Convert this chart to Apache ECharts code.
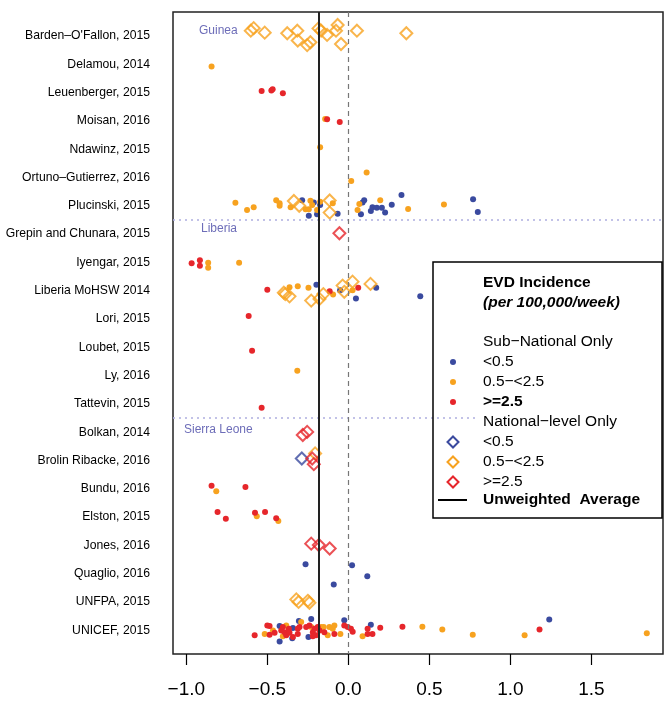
<!DOCTYPE html>
<html>
<head>
<meta charset="utf-8">
<script src="https://cdn.jsdelivr.net/npm/echarts@6/dist/echarts.min.js"></script>
<style>html,body{margin:0;padding:0;background:#fff;}#c{width:665px;height:702px;}</style>
</head>
<body>
<div id="c"></div>
<script>
// Study names (rows, top to bottom)
const studies = ["Barden–O'Fallon, 2015","Delamou, 2014","Leuenberger, 2015","Moisan, 2016","Ndawinz, 2015","Ortuno–Gutierrez, 2016","Plucinski, 2015","Grepin and Chunara, 2015","Iyengar, 2015","Liberia MoHSW 2014","Lori, 2015","Loubet, 2015","Ly, 2016","Tattevin, 2015","Bolkan, 2014","Brolin Ribacke, 2016","Bundu, 2016","Elston, 2015","Jones, 2016","Quaglio, 2016","UNFPA, 2015","UNICEF, 2015"];
const xTicks = [-1.0, -0.5, 0.0, 0.5, 1.0, 1.5];
const averageValue = -0.176;
const regionBreaks = [7.5, 14.5];

// Each entry: [row (1-based), value, vertical jitter in rows]
const subLow = [
 [7,-0.285,-0.20],[7,-0.244,0.35],[7,-0.213,-0.12],[7,-0.193,0.30],[7,-0.174,-0.03],[7,-0.066,0.28],[7,0.078,0.30],[7,0.088,-0.12],[7,0.098,-0.20],[7,0.139,0.18],[7,0.149,0.05],[7,0.176,0.07],[7,0.207,0.07],[7,0.227,0.24],[7,0.268,-0.04],[7,0.328,-0.38],[7,0.770,-0.23],[7,0.799,0.22],
 [10,-0.197,-0.21],[10,-0.051,-0.02],[10,0.047,0.28],[10,0.172,-0.10],[10,0.444,0.20],
 [20,-0.264,-0.33],[20,0.023,-0.30],[20,0.117,0.09],[20,-0.090,0.38],
 [22,-0.424,-0.15],[22,-0.424,0.40],[22,-0.342,-0.08],[22,-0.346,0.28],[22,-0.305,-0.33],[22,-0.246,0.24],[22,-0.229,-0.40],[22,-0.025,-0.35],[22,0.139,-0.19],[22,1.240,-0.38]
];
const subMid = [
 [2,-0.844,0.08],
 [4,-0.143,-0.07],
 [5,-0.174,-0.07],
 [6,0.113,-0.18],[6,0.018,0.12],
 [7,-0.697,-0.11],[7,-0.625,0.15],[7,-0.584,0.05],[7,-0.445,-0.20],[7,-0.424,-0.09],[7,-0.424,0.00],[7,-0.356,0.05],[7,-0.264,0.12],[7,-0.244,0.12],[7,-0.234,-0.18],[7,-0.223,-0.03],[7,-0.193,0.15],[7,-0.174,-0.14],[7,-0.096,-0.09],[7,0.057,0.15],[7,0.068,-0.06],[7,0.197,-0.20],[7,0.369,0.11],[7,0.590,-0.05],
 [9,-0.865,0.01],[9,-0.865,0.19],[9,-0.674,0.01],
 [10,-0.363,-0.12],[10,-0.312,-0.16],[10,-0.246,-0.10],[10,-0.094,0.13],[10,0.026,-0.02],
 [13,-0.315,-0.17],
 [17,-0.815,0.09],
 [18,-0.565,-0.03],[18,-0.432,0.14],
 [22,-0.516,0.13],[22,-0.465,0.01],[22,-0.383,-0.17],[22,-0.404,0.21],[22,-0.291,-0.29],[22,-0.229,-0.11],[22,-0.168,-0.11],[22,-0.152,-0.11],[22,-0.127,0.18],[22,-0.117,-0.11],[22,-0.096,-0.05],[22,-0.049,0.13],[22,-0.086,-0.17],[22,0.088,0.21],[22,0.457,-0.12],[22,0.580,-0.03],[22,0.768,0.16],[22,1.088,0.18],[22,1.842,0.11]
];
const subHigh = [
 [3,-0.535,-0.06],[3,-0.475,-0.08],[3,-0.467,-0.12],[3,-0.404,0.02],
 [4,-0.131,-0.06],[4,-0.053,0.04],
 [9,-0.967,0.03],[9,-0.916,-0.08],[9,-0.916,0.12],
 [10,-0.500,-0.03],[10,-0.115,0.02],[10,0.061,-0.10],
 [11,-0.615,-0.11],
 [12,-0.594,0.12],
 [14,-0.535,0.14],
 [17,-0.844,-0.11],[17,-0.635,-0.06],
 [18,-0.807,-0.18],[18,-0.756,0.06],[18,-0.576,-0.15],[18,-0.514,-0.18],[18,-0.445,0.04],
 [22,-0.578,0.18],[22,-0.486,0.16],[22,-0.500,-0.17],[22,-0.486,-0.15],[22,-0.455,0.09],[22,-0.414,0.01],[22,-0.393,0.07],[22,-0.383,0.18],[22,-0.404,-0.11],[22,-0.367,-0.05],[22,-0.342,0.24],[22,-0.363,0.09],[22,-0.312,-0.05],[22,-0.301,-0.11],[22,-0.312,0.13],[22,-0.260,-0.11],[22,-0.240,-0.17],[22,-0.219,0.07],[22,-0.209,-0.05],[22,-0.199,0.18],[22,-0.219,0.21],[22,-0.189,-0.11],[22,-0.178,0.01],[22,-0.148,0.07],[22,-0.086,0.13],[22,-0.025,-0.17],[22,-0.004,-0.11],[22,0.016,-0.05],[22,0.027,0.05],[22,0.119,-0.05],[22,0.119,0.13],[22,0.149,0.13],[22,0.197,-0.09],[22,0.334,-0.12],[22,1.180,-0.03]
];
const natLow = [
 [16,-0.287,-0.07]
];
const natMid = [
 [1,-0.602,-0.19],[1,-0.584,-0.28],[1,-0.516,-0.12],[1,-0.377,-0.10],[1,-0.315,-0.19],[1,-0.312,0.16],[1,-0.254,0.32],[1,-0.234,0.22],[1,-0.184,-0.27],[1,-0.168,-0.19],[1,-0.131,-0.04],[1,-0.076,-0.19],[1,-0.066,-0.39],[1,-0.045,0.28],[1,0.053,-0.19],[1,0.358,-0.10],
 [7,-0.336,-0.17],[7,-0.303,0.00],[7,-0.115,-0.19],[7,-0.115,0.24],
 [10,-0.398,0.07],[10,-0.389,0.12],[10,-0.363,0.20],[10,-0.229,0.35],[10,-0.178,0.29],[10,-0.154,0.12],[10,-0.035,-0.18],[10,-0.025,0.04],[10,0.026,-0.32],[10,0.137,-0.24],
 [16,-0.205,-0.25],
 [21,-0.321,-0.09],[21,-0.307,0.00],[21,-0.250,-0.04],[21,-0.240,0.03]
];
const natHigh = [
 [8,-0.055,-0.03],
 [15,-0.281,0.10],[15,-0.254,-0.01],
 [16,-0.223,-0.07],[16,-0.213,0.13],
 [19,-0.229,-0.06],[19,-0.182,-0.01],[19,-0.115,0.11]
];

const BLUE = '#3a4a9f', ORANGE = '#f7a21f', RED = '#e6262b';
const FONT = '"Liberation Sans", Arial, Helvetica, sans-serif';
const X_MIN = -1.082, X_MAX = 1.942;
const toXY = arr => arr.map(d => [d[1], d[0] + d[2]]);

function dotSeries(name, arr, color) {
  return { name, type: 'scatter', data: toXY(arr), symbol: 'circle', symbolSize: 6, z: 2,
    itemStyle: { color: color, opacity: 1 }, silent: true, animation: false };
}
function diamondSeries(name, arr, color) {
  return { name, type: 'scatter', data: toXY(arr), symbol: 'diamond', symbolSize: 12, z: 4,
    itemStyle: { color: 'transparent', borderColor: color, borderWidth: 2 }, silent: true, animation: false };
}

const chart = echarts.init(document.getElementById('c'), null, { renderer: 'canvas' });

const lx = 453, tx = 483, LZ = 100;
const legendY = [283, 303, 342, 362, 382, 402, 422, 442, 462, 482, 500];
const diamondPts = (cx, cy) => [[cx, cy - 5.5], [cx + 5.5, cy], [cx, cy + 5.5], [cx - 5.5, cy]];
const txt = (t, y, font) => ({ type: 'text', z: LZ + 2, style: { text: t, x: tx, y: y, font: font, fill: '#000', verticalAlign: 'middle', textVerticalAlign: 'middle' } });
const dotted = { color: '#aeaee0', type: [2, 4], width: 1.5 };

const option = {
  backgroundColor: '#fff',
  animation: false,
  textStyle: { fontFamily: FONT },
  grid: { left: 173, right: 2, top: 12, bottom: 48, show: true, borderColor: '#222', borderWidth: 1.5, backgroundColor: '#fff' },
  xAxis: {
    type: 'value', min: X_MIN, max: X_MAX,
    splitLine: { show: false },
    axisLine: { show: false },
    axisTick: { show: true, length: 11, customValues: xTicks, lineStyle: { color: '#000', width: 1.2 } },
    axisLabel: { customValues: xTicks, fontSize: 19, margin: 26, color: '#000', fontFamily: FONT,
      formatter: v => (v < 0 ? '\u2212' : '') + Math.abs(v).toFixed(1) }
  },
  yAxis: {
    type: 'value', inverse: true, min: 0.15, max: 22.84,
    splitLine: { show: false }, axisLine: { show: false }, axisTick: { show: false },
    axisLabel: { customValues: studies.map((s, i) => i + 1), fontSize: 12.2, margin: 23, color: '#000', fontFamily: FONT,
      formatter: v => studies[Math.round(v) - 1] || '' }
  },
  series: [
    dotSeries('sub <0.5', subLow, BLUE),
    dotSeries('sub 0.5-<2.5', subMid, ORANGE),
    dotSeries('sub >=2.5', subHigh, RED),
    { type: 'scatter', data: [], z: 3, silent: true,
      markLine: { silent: true, symbol: 'none', animation: false, label: { show: false },
        data: [
          [{ coord: [X_MIN, regionBreaks[0]], lineStyle: dotted }, { coord: [X_MAX, regionBreaks[0]] }],
          [{ coord: [X_MIN, regionBreaks[1]], lineStyle: dotted }, { coord: [0.8, regionBreaks[1]] }],
          { xAxis: 0, lineStyle: { color: '#777', type: [5, 4], width: 1.2 } },
          { xAxis: averageValue, lineStyle: { color: '#222', type: 'solid', width: 2 } }
        ] } },
    diamondSeries('nat <0.5', natLow, BLUE),
    diamondSeries('nat 0.5-<2.5', natMid, ORANGE),
    diamondSeries('nat >=2.5', natHigh, RED)
  ],
  graphic: [
    { type: 'text', z: 50, style: { text: 'Guinea', x: 199, y: 31, font: '12px ' + FONT, fill: '#6d6db8', verticalAlign: 'middle', textVerticalAlign: 'middle' } },
    { type: 'text', z: 50, style: { text: 'Liberia', x: 201, y: 229, font: '12px ' + FONT, fill: '#6d6db8', verticalAlign: 'middle', textVerticalAlign: 'middle' } },
    { type: 'text', z: 50, style: { text: 'Sierra Leone', x: 184, y: 430, font: '12px ' + FONT, fill: '#6d6db8', verticalAlign: 'middle', textVerticalAlign: 'middle' } },
    { type: 'rect', z: LZ, shape: { x: 433, y: 262, width: 229, height: 256 }, style: { fill: 'rgba(0,0,0,0)', stroke: '#000', lineWidth: 1.5 } },
    txt('EVD Incidence', legendY[0], 'bold 15.5px ' + FONT),
    txt('(per 100,000/week)', legendY[1], 'italic bold 15.5px ' + FONT),
    txt('Sub\u2212National Only', legendY[2], '15.5px ' + FONT),
    { type: 'circle', z: LZ + 2, shape: { cx: lx, cy: legendY[3], r: 3 }, style: { fill: BLUE } },
    txt('<0.5', legendY[3], '15.5px ' + FONT),
    { type: 'circle', z: LZ + 2, shape: { cx: lx, cy: legendY[4], r: 3 }, style: { fill: ORANGE } },
    txt('0.5\u2212<2.5', legendY[4], '15.5px ' + FONT),
    { type: 'circle', z: LZ + 2, shape: { cx: lx, cy: legendY[5], r: 3 }, style: { fill: RED } },
    txt('>=2.5', legendY[5], 'bold 15.5px ' + FONT),
    txt('National\u2212level Only', legendY[6], '15.5px ' + FONT),
    { type: 'polygon', z: LZ + 2, shape: { points: diamondPts(lx, legendY[7]) }, style: { fill: 'none', stroke: BLUE, lineWidth: 2 } },
    txt('<0.5', legendY[7], '15.5px ' + FONT),
    { type: 'polygon', z: LZ + 2, shape: { points: diamondPts(lx, legendY[8]) }, style: { fill: 'none', stroke: ORANGE, lineWidth: 2 } },
    txt('0.5\u2212<2.5', legendY[8], '15.5px ' + FONT),
    { type: 'polygon', z: LZ + 2, shape: { points: diamondPts(lx, legendY[9]) }, style: { fill: 'none', stroke: RED, lineWidth: 2 } },
    txt('>=2.5', legendY[9], '15.5px ' + FONT),
    { type: 'line', z: LZ + 2, shape: { x1: 438, y1: legendY[10], x2: 467, y2: legendY[10] }, style: { stroke: '#000', lineWidth: 2 } },
    txt('Unweighted  Average', legendY[10], 'bold 15.5px ' + FONT)
  ]
};
chart.setOption(option);
</script>
</body>
</html>
